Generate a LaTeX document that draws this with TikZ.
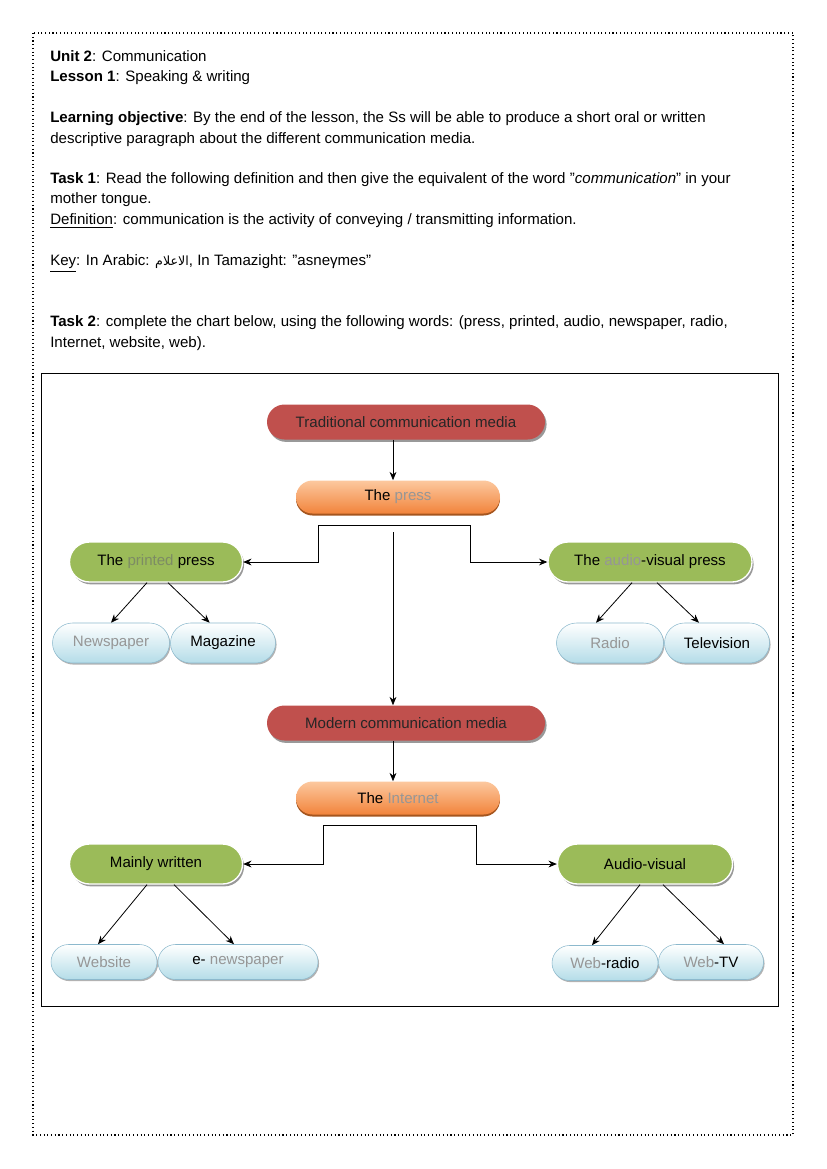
\documentclass[tikz,border=0pt]{standalone}
\usepackage{fontspec}
\setmainfont{Liberation Sans}
\newfontfamily\arabicfont[Script=Arabic]{DejaVu Sans}
\TeXXeTstate=1
\usepackage{tikz}
\usetikzlibrary{positioning,arrows.meta,calc,shapes.misc,shadows}
\definecolor{cRed}{RGB}{192,80,77}
\definecolor{cGreen}{RGB}{155,187,89}
\definecolor{cOrTop}{RGB}{252,200,158}
\definecolor{cOrBot}{RGB}{242,132,60}
\definecolor{cOrRim}{RGB}{165,85,30}
\definecolor{cBlueBot}{RGB}{180,220,232}
\definecolor{cBlueLine}{RGB}{140,185,205}
\definecolor{cGrey}{RGB}{150,150,150}
\definecolor{cGreenTxt}{RGB}{125,140,100}
\newcommand{\txtfont}{\fontsize{11.3}{13}\selectfont}
\newcommand{\chartfont}{\fontsize{11.3}{13}\selectfont}
\tikzset{
  hdr/.style={anchor=base west, inner sep=0pt, font=\txtfont},
  pill/.style={rounded rectangle, align=center, font=\chartfont, inner sep=0pt},
  media/.style={pill, fill=cRed, text=black!85, minimum width=208.5pt,
                minimum height=26.25pt,
                drop shadow={shadow xshift=1.2pt, shadow yshift=-1.8pt, fill=black!40, opacity=1}},
  channel/.style={pill, top color=cOrTop, bottom color=cOrBot, text=black,
                  minimum width=153pt, minimum height=24.75pt,
                  drop shadow={shadow xshift=0pt, shadow yshift=-1.5pt, fill=cOrRim, opacity=1}},
  branch/.style={pill, fill=cGreen, draw=white, line width=1pt, text=black,
                 minimum width=129.75pt, minimum height=30pt,
                 drop shadow={shadow xshift=1.2pt, shadow yshift=-1.8pt, fill=black!40, opacity=1}},
  leaf/.style={pill, top color=white, bottom color=cBlueBot, draw=cBlueLine,
               line width=0.4pt, text=black, minimum width=79.5pt, minimum height=30pt,
               drop shadow={shadow xshift=0.8pt, shadow yshift=-1.2pt, fill=black!30, opacity=1}},
  flow/.style={-{Stealth[length=2.2mm,width=1.8mm]}, draw=black, line width=0.6pt},
  biflow/.style={{Stealth[length=2.2mm,width=1.8mm]}-{Stealth[length=2.2mm,width=1.8mm]},
                 draw=black, line width=0.6pt},
}

\begin{document}
\begin{tikzpicture}[x=0.75pt,y=-0.75pt]
  \useasboundingbox (0,0) rectangle (826,1169);
  % --- page frame and chart frame ---
  \draw[dotted, line width=0.8pt] (33,33) rectangle (793,1135);
  \draw[line width=0.6pt] (41,373) rectangle (778,1006);

  % --- lesson text ---
  \node[hdr] (unit)   at (50,62)  {\textbf{Unit 2}: Communication};
  \node[hdr] (lesson) at (50,82)  {\textbf{Lesson 1}: Speaking \& writing};
  \node[hdr] (obj1)   at (50,123) {\textbf{Learning objective}: By the end of the lesson, the Ss will be able to produce a short oral or written};
  \node[hdr] (obj2)   at (50,144) {descriptive paragraph about the different communication media.};
  \node[hdr] (task1a) at (50,184) {\textbf{Task 1}: Read the following definition and then give the equivalent of the word "\textit{communication}" in your};
  \node[hdr] (task1b) at (50,204) {mother tongue.};
  \node[hdr] (defn)   at (50,225) {\underline{Definition}: communication is the activity of conveying / transmitting information.};
  \node[hdr] (key)    at (50,266) {\underline{Key}: In Arabic: {\arabicfont\fontsize{9.5}{10}\selectfont\beginR الاعلام\endR}, In Tamazight: "asneγmes"};
  \node[hdr] (task2a) at (50,326) {\textbf{Task 2}: complete the chart below, using the following words: (press, printed, audio, newspaper, radio,};
  \node[hdr] (task2b) at (50,347) {Internet, website, web).};

  % --- traditional media ---
  \node[media]   (trad)    at (406,422) {Traditional communication media};
  \node[channel] (press)   at (398,497) {The \textcolor{cGrey}{press}};
  \node[branch]  (printed) at (156,562) {The \textcolor{cGreenTxt}{printed} press};
  \node[branch, minimum width=153pt] (avpress) at (650,562) {The \textcolor{cGrey}{audio}-visual press};
  \node[leaf, minimum width=87.75pt] (newsp) at (111,643) {\textcolor{cGrey}{Newspaper}};
  \node[leaf, minimum width=78.75pt] (mag)   at (223,643) {Magazine};
  \node[leaf, minimum width=80.25pt] (radio) at (610,643) {\textcolor{cGrey}{Radio}};
  \node[leaf, minimum width=78.75pt] (tv)    at (717,643) {Television};

  \coordinate (pressL) at (318,525);
  \coordinate (pressR) at (470,525);
  \coordinate (trunk)  at (393,532);

  \draw[flow] ([xshift=-9.75pt]trad.south) -- ([xshift=-3.75pt]press.north);
  \draw[biflow] (printed.east) -| (pressL) -- (pressR) |- (avpress.west);
  \draw[flow] ([xshift=-6.75pt]printed.south) -- (newsp.north);
  \draw[flow] ([xshift=9pt]printed.south) -- ([xshift=-10pt]mag.north);
  \draw[flow] ([xshift=-13.5pt]avpress.south) -- ([xshift=-10.5pt]radio.north);
  \draw[flow] ([xshift=5.25pt]avpress.south) -- ([xshift=-13.5pt]tv.north);

  % --- modern media ---
  \node[media]   (modern)  at (406,723) {Modern communication media};
  \node[channel] (net)     at (398,798) {The \textcolor{cGrey}{Internet}};
  \node[branch]  (written) at (156,864) {Mainly written};
  \node[branch, minimum width=131.25pt] (av) at (645,864) {Audio-visual};
  \node[leaf, minimum height=26.25pt] (web)   at (104,962) {\textcolor{cGrey}{Website}};
  \node[leaf, minimum height=26.25pt, minimum width=120pt] (enews) at (238,962) {e- \textcolor{cGrey}{newspaper}};
  \node[leaf, minimum height=26.25pt] (wradio) at (605,963) {\textcolor{cGrey}{Web}-radio};
  \node[leaf, minimum height=26.25pt, minimum width=78.75pt] (wtv) at (711,962) {\textcolor{cGrey}{Web}-TV};

  \coordinate (netL) at (323,825);
  \coordinate (netR) at (476,825);

  \draw[flow] (trunk) -- (trunk |- modern.north);
  \draw[flow] ([xshift=-9.75pt]modern.south) -- ([xshift=-3.75pt]net.north);
  \draw[biflow] (written.east) -| (netL) -- (netR) |- (av.west);
  \draw[flow] ([xshift=-6.75pt]written.south) -- ([xshift=-4.5pt]web.north);
  \draw[flow] ([xshift=13.5pt]written.south) -- ([xshift=-3pt]enews.north);
  \draw[flow] ([xshift=-3.75pt]av.south) -- ([xshift=-9.75pt]wradio.north);
  \draw[flow] ([xshift=13.5pt]av.south) -- ([xshift=9.75pt]wtv.north);
\end{tikzpicture}
\end{document}
